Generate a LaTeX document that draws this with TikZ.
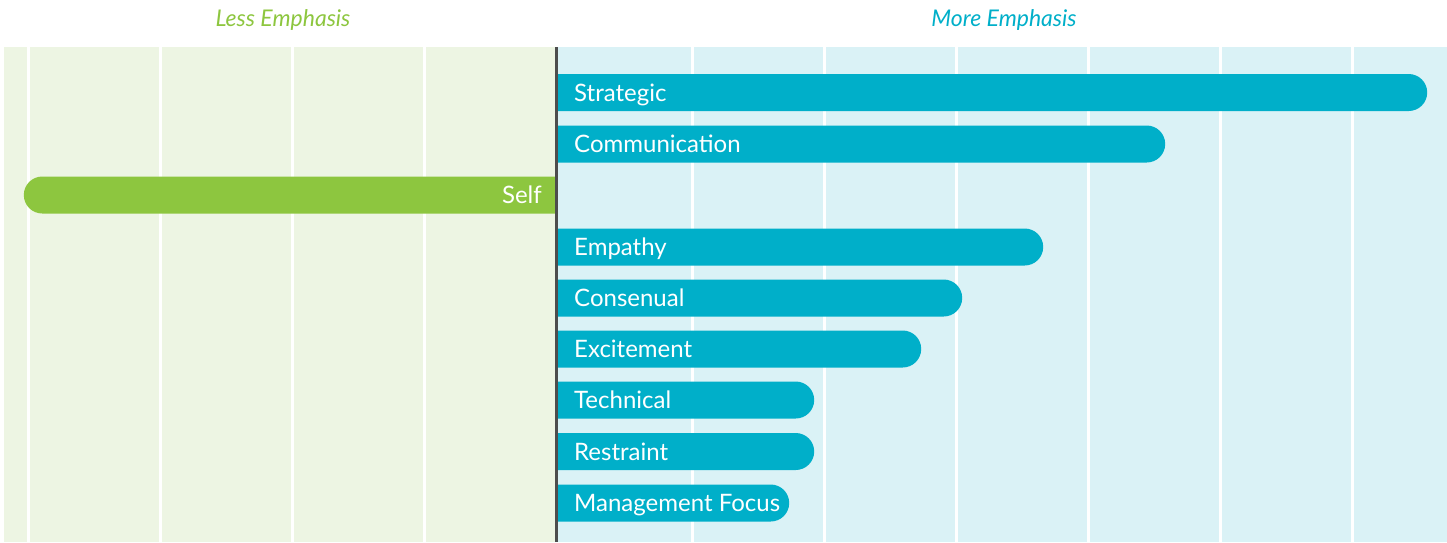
\documentclass[tikz,border=0pt]{standalone}
\usepackage{fontspec}
\setmainfont{Lato}
\usetikzlibrary{shapes.misc}

\definecolor{barblue}{HTML}{00AFC9}
\definecolor{selfgreen}{HTML}{8DC63F}
\definecolor{lessbg}{HTML}{EDF5E3}
\definecolor{morebg}{HTML}{DAF2F6}
\definecolor{dividergray}{HTML}{4D4D4D}

\begin{document}
\begin{tikzpicture}[x=1pt,y=-1pt,
		gridline/.style={white,line width=3pt},
		morebar/.style={rounded rectangle,rounded rectangle west arc=none,anchor=west,
			fill=barblue,minimum height=37pt,inner sep=0pt},
		lessbar/.style={rounded rectangle,rounded rectangle east arc=none,anchor=east,
			fill=selfgreen,minimum height=37pt,inner sep=0pt},
		barlabel/.style={text=white,inner sep=0pt,yshift=-8.5pt,font=\fontsize{24}{28}\selectfont},
		title/.style={font=\fontsize{23}{27}\selectfont\itshape}]

		\useasboundingbox (0,0) rectangle (1447,542);

		% panels
		\fill[lessbg] (4,47) rectangle (556,542);
		\fill[morebg] (556,47) rectangle (1447,542);
		\draw[gridline] (28,47) -- (28,542) (160,47) -- (160,542)
			(292,47) -- (292,542) (424,47) -- (424,542)
			(692,47) -- (692,542) (824,47) -- (824,542) (956,47) -- (956,542)
			(1088,47) -- (1088,542) (1220,47) -- (1220,542) (1352,47) -- (1352,542);

		\node[title,text=selfgreen] (less) at (283,20) {Less Emphasis};
		\node[title,text=barblue] (more) at (1004,20) {More Emphasis};

		% bars
		\node[morebar,minimum width=869pt] (strategicbar) at (558,92.5) {};
		\node[morebar,minimum width=607pt] (communicationbar) at (558,144) {};
		\node[lessbar,minimum width=532pt] (selfbar) at (556,195) {};
		\node[morebar,minimum width=485pt] (empathybar) at (558,247) {};
		\node[morebar,minimum width=404pt] (consensualbar) at (558,298) {};
		\node[morebar,minimum width=363pt] (excitementbar) at (558,349) {};
		\node[morebar,minimum width=256pt] (technicalbar) at (558,400) {};
		\node[morebar,minimum width=256pt] (restraintbar) at (558,451.5) {};
		\node[morebar,minimum width=231pt] (managementbar) at (558,503) {};

		\node[barlabel,anchor=base west,xshift=16pt] (strategic) at (strategicbar.west) {Strategic};
		\node[barlabel,anchor=base west,xshift=16pt] (communication) at (communicationbar.west) {Communication};
		\node[barlabel,anchor=base east,xshift=-14pt] (self) at (selfbar.east) {Self};
		\node[barlabel,anchor=base west,xshift=16pt] (empathy) at (empathybar.west) {Empathy};
		\node[barlabel,anchor=base west,xshift=16pt] (consensual) at (consensualbar.west) {Consenual};
		\node[barlabel,anchor=base west,xshift=16pt] (excitement) at (excitementbar.west) {Excitement};
		\node[barlabel,anchor=base west,xshift=16pt] (technical) at (technicalbar.west) {Technical};
		\node[barlabel,anchor=base west,xshift=16pt] (restraint) at (restraintbar.west) {Restraint};
		\node[barlabel,anchor=base west,xshift=16pt] (management) at (managementbar.west) {Management Focus};

		\draw[dividergray,line width=3pt] (556,47) -- (556,542);
	\end{tikzpicture}
\end{document}
